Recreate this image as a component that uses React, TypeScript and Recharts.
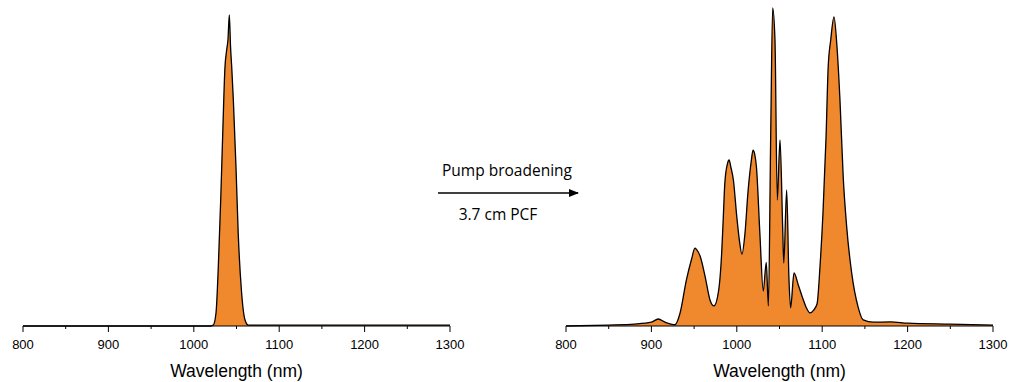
import React from 'react'
import { AreaChart, Area, XAxis, YAxis } from 'recharts'

// pump spectrum (input), normalized intensity
const pumpWavelength = [800, 1020, 1022.8, 1026, 1028.7, 1031.5, 1033.9, 1036.5, 1038.5, 1040, 1041.6, 1043, 1044.4, 1046.3, 1049.4, 1052, 1056, 1060, 1063.8, 1070, 1300]
const pumpIntensity = [0, 0, 0.003, 0.041, 0.186, 0.396, 0.607, 0.814, 0.868, 0.9, 0.978, 0.88, 0.814, 0.711, 0.5, 0.292, 0.104, 0.019, 0.003, 0.003, 0.003]

// broadened spectrum after 3.7 cm PCF
const outWavelength = [800, 850, 880, 900, 908, 916, 927.6, 933.5, 941, 947, 951, 953, 957, 962.8, 968.6, 973.3, 978.3, 982.3, 984, 986, 989, 991, 993, 996, 1000, 1003, 1006, 1009.6, 1013, 1017, 1019, 1021, 1023, 1027, 1031, 1034.5, 1037, 1039.7, 1042, 1044.7, 1047.4, 1050.6, 1053.7, 1055, 1058.4, 1061, 1063, 1067, 1072, 1077.5, 1081, 1085.7, 1090, 1094, 1097.4, 1101, 1104.5, 1107, 1110, 1113.8, 1117, 1120.8, 1124.6, 1128.7, 1134.5, 1142, 1148, 1160, 1180, 1200, 1250, 1300]
const outIntensity = [0, 0.003, 0.006, 0.012, 0.022, 0.012, 0.004, 0.04, 0.145, 0.21, 0.245, 0.24, 0.22, 0.157, 0.082, 0.063, 0.104, 0.23, 0.33, 0.45, 0.51, 0.522, 0.5, 0.459, 0.343, 0.27, 0.226, 0.292, 0.418, 0.52, 0.553, 0.54, 0.5, 0.292, 0.11, 0.2, 0.063, 0.6, 1.0, 0.9, 0.396, 0.585, 0.311, 0.198, 0.428, 0.154, 0.057, 0.167, 0.129, 0.085, 0.06, 0.041, 0.05, 0.07, 0.186, 0.36, 0.594, 0.814, 0.9, 0.972, 0.89, 0.711, 0.469, 0.311, 0.167, 0.06, 0.019, 0.012, 0.013, 0.009, 0.006, 0.003]

const xTicks = [800, 850, 900, 950, 1000, 1050, 1100, 1150, 1200, 1250, 1300]

const ORANGE = '#F0882D'

const WavelengthTick = (props: any) => {
  const { x, y, payload } = props
  const major = payload.value % 100 === 0
  return (
    <g>
      <line x1={x} x2={x} y1={y} y2={y + (major ? 6 : 3)} stroke="#000" strokeWidth={1} />
      {major && (
        <text x={x} y={y + 23} textAnchor="middle" fontSize={13} fill="#000" fontFamily="Liberation Sans, Arial, sans-serif">
          {payload.value}
        </text>
      )}
    </g>
  )
}

function Spectrum({ wl, inten }: { wl: number[]; inten: number[] }) {
  const data = wl.map((w, i) => ({ w, v: inten[i] }))
  return (
    <AreaChart width={480} height={382} data={data} margin={{ top: 8, right: 30, left: 23, bottom: 0 }}>
      <XAxis
        dataKey="w"
        type="number"
        domain={[800, 1300]}
        ticks={xTicks}
        tickLine={false}
        tickSize={0}
        tickMargin={0}
        axisLine={{ stroke: '#000', strokeWidth: 1 }}
        tick={<WavelengthTick />}
        height={56}
        interval={0}
        label={{
          value: 'Wavelength (nm)',
          position: 'insideBottom',
          offset: 5,
          fill: '#000',
          fontSize: 17.5,
          fontFamily: 'Liberation Sans, Arial, sans-serif',
        }}
      />
      <YAxis hide domain={[0, 1]} />
      <Area
        type="monotone"
        dataKey="v"
        stroke="#000"
        strokeWidth={1.3}
        fill={ORANGE}
        fillOpacity={1}
        isAnimationActive={false}
        dot={false}
        activeDot={false}
      />
    </AreaChart>
  )
}

export default function App() {
  return (
    <div style={{ position: 'absolute', left: 0, top: 0, width: 1011, height: 382, background: '#fff', overflow: 'hidden' }}>
      <div style={{ position: 'absolute', left: 0, top: 0 }}>
        <Spectrum wl={pumpWavelength} inten={pumpIntensity} />
      </div>
      <div style={{ position: 'absolute', left: 543, top: 0 }}>
        <Spectrum wl={outWavelength} inten={outIntensity} />
      </div>
      <svg style={{ position: 'absolute', left: 0, top: 0 }} width={1011} height={382}>
        <defs>
          <marker id="arrowHead" markerWidth="10" markerHeight="8" refX="9" refY="4" orient="auto" markerUnits="userSpaceOnUse">
            <path d="M0,0 L10,4 L0,8 Z" fill="#000" />
          </marker>
        </defs>
        <text x={507} y={176} textAnchor="middle" fontSize={15.5} fill="#000" fontFamily="Open Sans, sans-serif">
          Pump broadening
        </text>
        <line x1={438} y1={193} x2={578} y2={193} stroke="#000" strokeWidth={1.5} markerEnd="url(#arrowHead)" />
        <text x={498} y={220} textAnchor="middle" fontSize={15.5} fill="#000" fontFamily="Open Sans, sans-serif">
          3.7 cm PCF
        </text>
      </svg>
    </div>
  )
}
